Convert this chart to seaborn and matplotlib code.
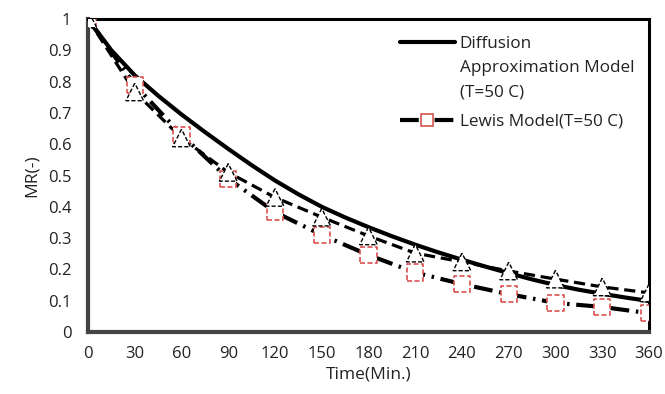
import matplotlib
matplotlib.use("Agg")
import matplotlib.pyplot as plt
import seaborn as sns
import pandas as pd
import numpy as np
from matplotlib.lines import Line2D
from matplotlib.legend_handler import HandlerLine2D

time_min = [0, 30, 60, 90, 120, 150, 180, 210, 240, 270, 300, 330, 360]
lewis_model = [1.0, 0.79, 0.63, 0.49, 0.383, 0.31, 0.246, 0.19, 0.153, 0.121, 0.093, 0.08, 0.06]
experimental = [1.0, 0.767, 0.62, 0.51, 0.43, 0.367, 0.307, 0.252, 0.224, 0.195, 0.169, 0.144, 0.125]

diffusion_time = [0, 15, 30, 45, 60, 75, 90, 105, 120, 135, 150, 165, 180, 195, 210, 225,
                  240, 255, 270, 285, 300, 315, 330, 345, 360]
diffusion_model = [1.0, 0.90, 0.82, 0.755, 0.695, 0.639, 0.585, 0.533, 0.484, 0.44, 0.40,
                   0.366, 0.335, 0.306, 0.279, 0.254, 0.231, 0.209, 0.188, 0.168, 0.15,
                   0.135, 0.122, 0.11, 0.099]

x_ticks = [0, 30, 60, 90, 120, 150, 180, 210, 240, 270, 300, 330, 360]
y_ticks = [0, 0.1, 0.2, 0.3, 0.4, 0.5, 0.6, 0.7, 0.8, 0.9, 1.0]
y_tick_labels = ["0", "0.1", "0.2", "0.3", "0.4", "0.5", "0.6", "0.7", "0.8", "0.9", "1"]

label_diff = "Diffusion\nApproximation Model\n(T=50 C)"
label_lewis = "Lewis Model(T=50 C)"

df = pd.DataFrame({"t": time_min, "lewis": lewis_model, "exp": experimental})
df_diff = pd.DataFrame({"t": diffusion_time, "diff": diffusion_model})

sns.set_theme(style="white")
plt.rcParams["font.family"] = ["Open Sans", "DejaVu Sans"]

fig = plt.figure(figsize=(6.65, 3.94), dpi=100)
ax = fig.add_axes([88 / 665, 1 - 332 / 394, (649 - 88) / 665, (332 - 19) / 394])

red = "#d9534f"
lw_main = 3.0
dashdot = (0, (4.5, 1.6, 0.6, 1.6))

sns.lineplot(data=df, x="t", y="exp", ax=ax, color="black", linewidth=2.3,
             linestyle=(0, (3.5, 1.8)), zorder=2)
sns.lineplot(data=df, x="t", y="lewis", ax=ax, color="black", linewidth=lw_main,
             linestyle=dashdot, zorder=2)
sns.lineplot(data=df_diff, x="t", y="diff", ax=ax, color="black", linewidth=lw_main,
             solid_joinstyle="round", zorder=3)

sns.scatterplot(data=df, x="t", y="lewis", ax=ax, marker="s", s=135, facecolor="white",
                edgecolor=red, linewidth=1.2, linestyle=(0, (3, 1.5)), zorder=4)
sns.scatterplot(data=df, x="t", y="exp", ax=ax, marker="^", s=160, facecolor="white",
                edgecolor="black", linewidth=1.0, linestyle=(0, (3, 1.5)), zorder=5)

ax.set_xlim(0, 360)
ax.set_ylim(0, 1)
ax.set_xticks(x_ticks)
ax.set_xticklabels([str(v) for v in x_ticks])
ax.set_yticks(y_ticks)
ax.set_yticklabels(y_tick_labels)
ax.tick_params(axis="both", length=0, labelsize=12, colors="#222222")
ax.tick_params(axis="x", pad=10)
ax.tick_params(axis="y", pad=12)
ax.set_xlabel("Time(Min.)", fontsize=12.5, color="#222222", labelpad=3)
ax.set_ylabel("MR(-)", fontsize=12.5, color="#222222", labelpad=6)

for side in ["top", "right"]:
    ax.spines[side].set_color("black")
    ax.spines[side].set_linewidth(2.2)
for side in ["left", "bottom"]:
    ax.spines[side].set_color("#444444")
    ax.spines[side].set_linewidth(3.0)


class TopHandler(HandlerLine2D):
    def __init__(self, shift, **kw):
        super().__init__(**kw)
        self.shift = shift

    def create_artists(self, legend, orig_handle, xdescent, ydescent, width, height,
                       fontsize, trans):
        arts = super().create_artists(legend, orig_handle, xdescent, ydescent, width,
                                      height, fontsize, trans)
        for a in arts:
            a.set_ydata(np.asarray(a.get_ydata()) + self.shift * fontsize)
        return arts


h1 = Line2D([], [], color="black", linewidth=lw_main)
h2 = Line2D([], [], color="black", linewidth=lw_main, linestyle=dashdot,
            marker="s", markersize=8, markerfacecolor="white", markeredgecolor=red,
            markeredgewidth=1.2)
leg = ax.legend([h1, h2], [label_diff, label_lewis], loc="upper left",
                bbox_to_anchor=((400 - 88) / 561, 1 - (36 - 19) / 313),
                frameon=False, fontsize=12.3, handlelength=3.2, handletextpad=0.3,
                labelspacing=0.8, borderaxespad=0, borderpad=0,
                handler_map={h1: TopHandler(1.5)})
for t in leg.get_texts():
    t.set_color("#222222")
    t.set_linespacing(1.67)

fig.savefig("out.png", dpi=100)
